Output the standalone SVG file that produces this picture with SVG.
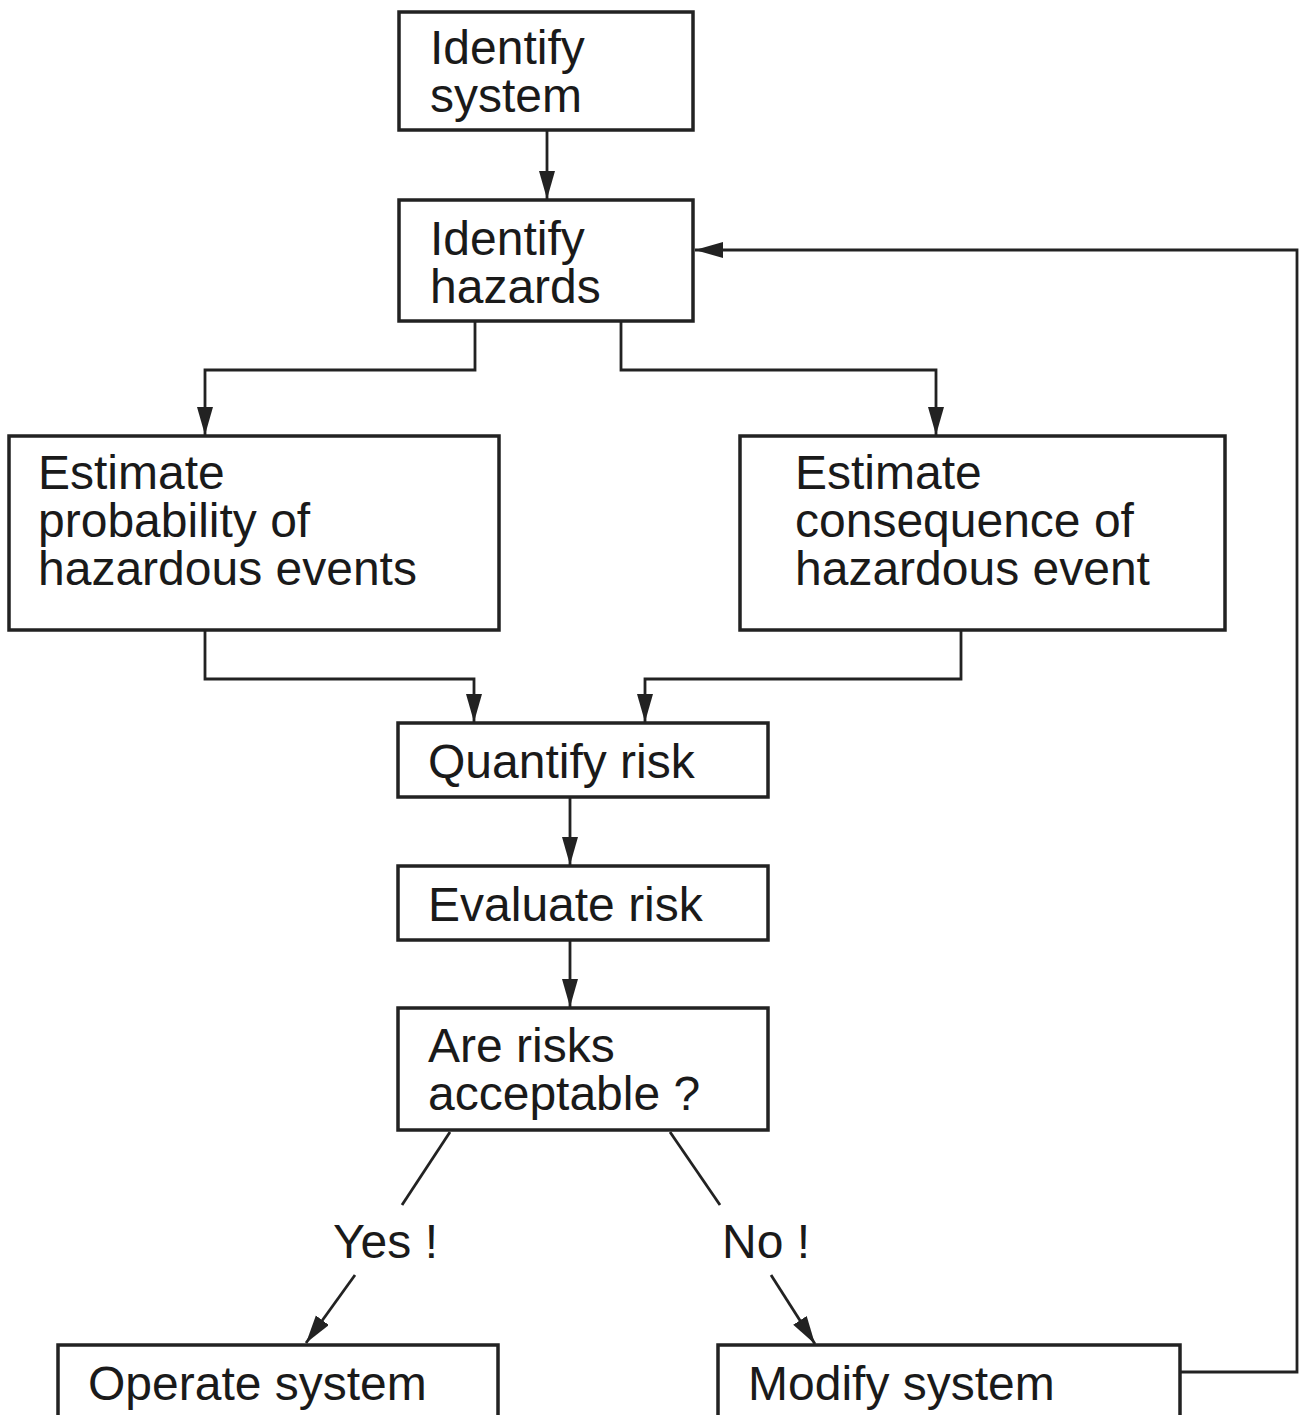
<svg xmlns="http://www.w3.org/2000/svg" width="1300" height="1415" viewBox="0 0 1300 1415">
<style>
.box{fill:#fff;stroke:#222;stroke-width:3.5}
.t{font-family:"Liberation Sans",Arial,sans-serif;font-size:48px;fill:#1a1a1a}
.c{fill:none;stroke:#222;stroke-width:2.8}
</style>
<defs>
<marker id="ah" markerUnits="userSpaceOnUse" markerWidth="30" markerHeight="18" refX="28" refY="8" orient="auto">
<path d="M0,0 L28,8 L0,16 z" fill="#222"/>
</marker>
</defs>
<rect width="1300" height="1415" fill="#fff"/>
<g id="connectors">
<path class="c" d="M547,131 V199" marker-end="url(#ah)"/>
<path class="c" d="M475,322 V370 H205 V435" marker-end="url(#ah)"/>
<path class="c" d="M621,322 V370 H936 V435" marker-end="url(#ah)"/>
<path class="c" d="M205,631 V679 H474 V722" marker-end="url(#ah)"/>
<path class="c" d="M961,631 V679 H645 V722" marker-end="url(#ah)"/>
<path class="c" d="M570,798 V865" marker-end="url(#ah)"/>
<path class="c" d="M570,941 V1007" marker-end="url(#ah)"/>
<path class="c" d="M450,1132 L402,1205"/>
<path class="c" d="M355,1275 L306,1343" marker-end="url(#ah)"/>
<path class="c" d="M670,1132 L720,1205"/>
<path class="c" d="M771,1275 L815,1344" marker-end="url(#ah)"/>
<path class="c" d="M1180,1372 H1297 V250 H695" marker-end="url(#ah)"/>
</g>
<g id="identify-system">
<rect class="box" x="399" y="12" width="294" height="118"/>
<text class="t" x="430" y="64">Identify</text>
<text class="t" x="430" y="112">system</text>
</g>
<g id="identify-hazards">
<rect class="box" x="399" y="200" width="294" height="121"/>
<text class="t" x="430" y="255">Identify</text>
<text class="t" x="430" y="303">hazards</text>
</g>
<g id="estimate-probability">
<rect class="box" x="9" y="436" width="490" height="194"/>
<text class="t" x="38" y="489">Estimate</text>
<text class="t" x="38" y="537">probability of</text>
<text class="t" x="38" y="585">hazardous events</text>
</g>
<g id="estimate-consequence">
<rect class="box" x="740" y="436" width="485" height="194"/>
<text class="t" x="795" y="489">Estimate</text>
<text class="t" x="795" y="537">consequence of</text>
<text class="t" x="795" y="585">hazardous event</text>
</g>
<g id="quantify-risk">
<rect class="box" x="398" y="723" width="370" height="74"/>
<text class="t" x="428" y="778">Quantify risk</text>
</g>
<g id="evaluate-risk">
<rect class="box" x="398" y="866" width="370" height="74"/>
<text class="t" x="428" y="921">Evaluate risk</text>
</g>
<g id="are-risks-acceptable">
<rect class="box" x="398" y="1008" width="370" height="122"/>
<text class="t" x="428" y="1062">Are risks</text>
<text class="t" x="428" y="1110">acceptable ?</text>
</g>
<g id="label-yes">
<text class="t" x="333" y="1258">Yes !</text>
</g>
<g id="label-no">
<text class="t" x="722" y="1258">No !</text>
</g>
<g id="operate-system">
<rect class="box" x="58" y="1345" width="440" height="90"/>
<text class="t" x="88" y="1400">Operate system</text>
</g>
<g id="modify-system">
<rect class="box" x="718" y="1345" width="462" height="90"/>
<text class="t" x="748" y="1400">Modify system</text>
</g>
</svg>
